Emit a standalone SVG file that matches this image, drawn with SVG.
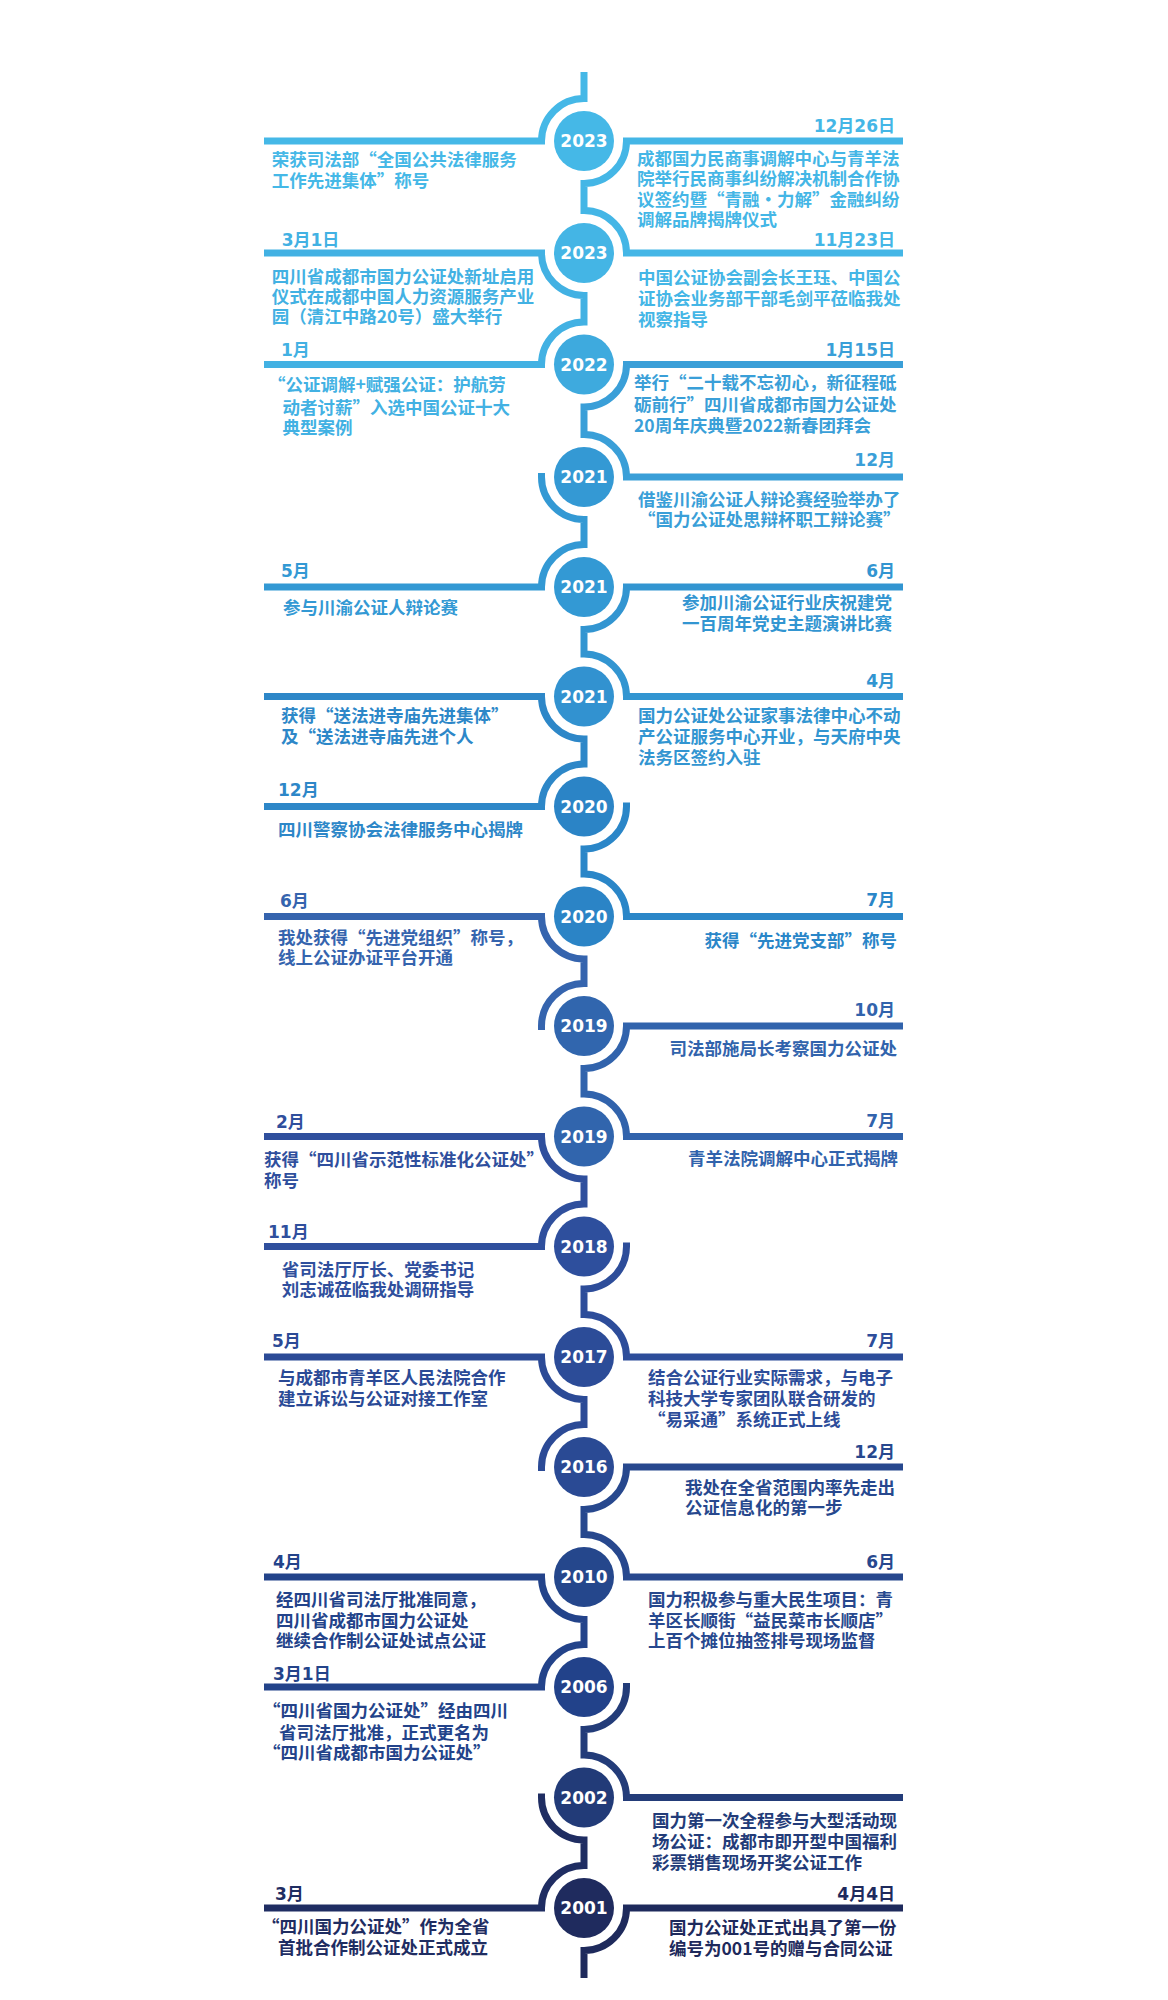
<svg xmlns="http://www.w3.org/2000/svg" width="1168" height="2000" viewBox="0 0 1168 2000">
<style>
.c{fill:none;stroke-width:7;stroke-linejoin:miter;stroke-linecap:butt}
.t{font-family:"Noto Sans CJK SC","Noto Sans CJK TC",sans-serif;font-size:17.5px;font-weight:700}
.d{font-family:"DejaVu Sans","Noto Sans CJK SC",sans-serif;font-size:17px;font-weight:700}
.y{font-family:"DejaVu Sans","Liberation Sans",sans-serif;font-size:17px;font-weight:700;fill:#ffffff;text-anchor:middle}
.e{text-anchor:end}
</style>
<rect width="1168" height="2000" fill="#ffffff"/>
<g id="connectors">
<path class="c" stroke="#45b8e7" d="M584 72 L584 98.5 A42.5 42.5 0 0 0 541.5 141 L264 141"/>
<path class="c" stroke="#44b6e6" d="M903 141 L626.5 141 A42.5 42.5 0 0 1 584 183.5 L584 210.5 A42.5 42.5 0 0 1 626.5 253 L903 253"/>
<path class="c" stroke="#42b1e3" d="M264 253 L541.5 253 A42.5 42.5 0 0 0 584 295.5 L584 322 A42.5 42.5 0 0 0 541.5 364.5 L264 364.5"/>
<path class="c" stroke="#3a9fd8" d="M903 364.5 L626.5 364.5 A42.5 42.5 0 0 1 584 407 L584 434.5 A42.5 42.5 0 0 1 626.5 477 L903 477"/>
<path class="c" stroke="#3399d4" d="M541.5 473 L541.5 477 A42.5 42.5 0 0 0 584 519.5 L584 544.5 A42.5 42.5 0 0 0 541.5 587 L264 587"/>
<path class="c" stroke="#3295d1" d="M903 587 L626.5 587 A42.5 42.5 0 0 1 584 629.5 L584 654 A42.5 42.5 0 0 1 626.5 696.5 L903 696.5"/>
<path class="c" stroke="#2d87c8" d="M264 696.5 L541.5 696.5 A42.5 42.5 0 0 0 584 739 L584 764 A42.5 42.5 0 0 0 541.5 806.5 L264 806.5"/>
<path class="c" stroke="#2a86c8" d="M626.5 802.5 L626.5 806.5 A42.5 42.5 0 0 1 584 849 L584 874 A42.5 42.5 0 0 1 626.5 916.5 L903 916.5"/>
<path class="c" stroke="#3564ae" d="M264 916.5 L541.5 916.5 A42.5 42.5 0 0 0 584 959 L584 983.5 A42.5 42.5 0 0 0 541.5 1026 L541.5 1030"/>
<path class="c" stroke="#3163ac" d="M903 1026 L626.5 1026 A42.5 42.5 0 0 1 584 1068.5 L584 1094 A42.5 42.5 0 0 1 626.5 1136.5 L903 1136.5"/>
<path class="c" stroke="#2f4f9d" d="M264 1136.5 L541.5 1136.5 A42.5 42.5 0 0 0 584 1179 L584 1204 A42.5 42.5 0 0 0 541.5 1246.5 L264 1246.5"/>
<path class="c" stroke="#2d4d9a" d="M626.5 1242.5 L626.5 1246.5 A42.5 42.5 0 0 1 584 1289 L584 1314.5 A42.5 42.5 0 0 1 626.5 1357 L903 1357"/>
<path class="c" stroke="#2b4a96" d="M264 1357 L541.5 1357 A42.5 42.5 0 0 0 584 1399.5 L584 1424.5 A42.5 42.5 0 0 0 541.5 1467 L541.5 1471"/>
<path class="c" stroke="#27488e" d="M903 1467 L626.5 1467 A42.5 42.5 0 0 1 584 1509.5 L584 1534.5 A42.5 42.5 0 0 1 626.5 1577 L903 1577"/>
<path class="c" stroke="#23438a" d="M264 1577 L541.5 1577 A42.5 42.5 0 0 0 584 1619.5 L584 1644.5 A42.5 42.5 0 0 0 541.5 1687 L264 1687"/>
<path class="c" stroke="#233c79" d="M626.5 1683 L626.5 1687 A42.5 42.5 0 0 1 584 1729.5 L584 1755 A42.5 42.5 0 0 1 626.5 1797.5 L903 1797.5"/>
<path class="c" stroke="#1f2d62" d="M541.5 1793.5 L541.5 1797.5 A42.5 42.5 0 0 0 584 1840 L584 1865.5 A42.5 42.5 0 0 0 541.5 1908 L264 1908"/>
<path class="c" stroke="#1e2a5c" d="M903 1908 L626.5 1908 A42.5 42.5 0 0 1 584 1950.5 L584 1978"/>
</g>

<g id="node-2023-a">
<circle cx="584" cy="141" r="30" fill="#45b8e7"/>
<text class="y" x="584" y="147">2023</text>
<text class="t" fill="#45b8e7"><tspan x="271.7" y="166">荣获司法部“全国公共法律服务</tspan><tspan x="271.7" y="187">工作先进集体”称号</tspan></text>
<text class="d e" x="895" y="131.5" fill="#44b6e6">12月26日</text>
<text class="t" fill="#44b6e6"><tspan x="637" y="164.5">成都国力民商事调解中心与青羊法</tspan><tspan x="637" y="185">院举行民商事纠纷解决机制合作协</tspan><tspan x="637" y="205.5">议签约暨“青融·力解”金融纠纷</tspan><tspan x="637" y="226">调解品牌揭牌仪式</tspan></text>
</g>

<g id="node-2023-b">
<circle cx="584" cy="253" r="30" fill="#44b5e5"/>
<text class="y" x="584" y="259">2023</text>
<text class="d" x="281.7" y="246" fill="#42b1e3">3月1日</text>
<text class="t" fill="#42b1e3"><tspan x="271.7" y="282.5">四川省成都市国力公证处新址启用</tspan><tspan x="271.7" y="302.5">仪式在成都中国人力资源服务产业</tspan><tspan x="271.7" y="322.5">园（清江中路20号）盛大举行</tspan></text>
<text class="d e" x="895" y="246" fill="#44b6e6">11月23日</text>
<text class="t" fill="#44b6e6"><tspan x="638" y="284">中国公证协会副会长王珏、中国公</tspan><tspan x="638" y="305">证协会业务部干部毛剑平莅临我处</tspan><tspan x="638" y="325.5">视察指导</tspan></text>
</g>

<g id="node-2022">
<circle cx="584" cy="364.5" r="30" fill="#3eaade"/>
<text class="y" x="584" y="370.5">2022</text>
<text class="d" x="281" y="356" fill="#42b1e3">1月</text>
<text class="t" fill="#42b1e3"><tspan x="268" y="391">“公证调解+赋强公证：护航劳</tspan><tspan x="282.5" y="413.5">动者讨薪”入选中国公证十大</tspan><tspan x="282.5" y="434">典型案例</tspan></text>
<text class="d e" x="895" y="356" fill="#3a9fd8">1月15日</text>
<text class="t" fill="#3a9fd8"><tspan x="634" y="389">举行“二十载不忘初心，新征程砥</tspan><tspan x="634" y="411">砺前行”四川省成都市国力公证处</tspan><tspan x="634" y="432">20周年庆典暨2022新春团拜会</tspan></text>
</g>

<g id="node-2021-a">
<circle cx="584" cy="477" r="30" fill="#3499d4"/>
<text class="y" x="584" y="483">2021</text>
<text class="d e" x="895" y="466" fill="#3a9fd8">12月</text>
<text class="t" fill="#3a9fd8"><tspan x="638" y="505.5">借鉴川渝公证人辩论赛经验举办了</tspan><tspan x="638" y="526">“国力公证处思辩杯职工辩论赛”</tspan></text>
</g>

<g id="node-2021-b">
<circle cx="584" cy="587" r="30" fill="#3399d4"/>
<text class="y" x="584" y="593">2021</text>
<text class="d" x="281" y="577" fill="#3399d4">5月</text>
<text class="t" x="283" y="613.5" fill="#3399d4">参与川渝公证人辩论赛</text>
<text class="d e" x="895" y="577" fill="#3295d1">6月</text>
<text class="t" fill="#3295d1"><tspan x="682" y="608.5">参加川渝公证行业庆祝建党</tspan><tspan x="682" y="630">一百周年党史主题演讲比赛</tspan></text>
</g>

<g id="node-2021-c">
<circle cx="584" cy="696.5" r="30" fill="#3292d0"/>
<text class="y" x="584" y="702.5">2021</text>
<text class="t" fill="#2d87c8"><tspan x="281" y="722">获得“送法进寺庙先进集体”</tspan><tspan x="281" y="742.5">及“送法进寺庙先进个人</tspan></text>
<text class="d e" x="895" y="687" fill="#3295d1">4月</text>
<text class="t" fill="#3295d1"><tspan x="638" y="722">国力公证处公证家事法律中心不动</tspan><tspan x="638" y="742.5">产公证服务中心开业，与天府中央</tspan><tspan x="638" y="764">法务区签约入驻</tspan></text>
</g>

<g id="node-2020-a">
<circle cx="584" cy="806.5" r="30" fill="#2b84c6"/>
<text class="y" x="584" y="812.5">2020</text>
<text class="d" x="278" y="796" fill="#2d87c8">12月</text>
<text class="t" x="278" y="836" fill="#2d87c8">四川警察协会法律服务中心揭牌</text>
</g>

<g id="node-2020-b">
<circle cx="584" cy="916.5" r="30" fill="#2b84c6"/>
<text class="y" x="584" y="922.5">2020</text>
<text class="d" x="280" y="907" fill="#3564ae">6月</text>
<text class="t" fill="#3564ae"><tspan x="278" y="944">我处获得“先进党组织”称号，</tspan><tspan x="278" y="964">线上公证办证平台开通</tspan></text>
<text class="d e" x="895" y="906" fill="#2a86c8">7月</text>
<text class="t e" x="897" y="946.5" fill="#2a86c8">获得“先进党支部”称号</text>
</g>

<g id="node-2019-a">
<circle cx="584" cy="1026" r="30" fill="#3166ae"/>
<text class="y" x="584" y="1032">2019</text>
<text class="d e" x="895" y="1016" fill="#3163ac">10月</text>
<text class="t e" x="897" y="1055" fill="#3163ac">司法部施局长考察国力公证处</text>
</g>

<g id="node-2019-b">
<circle cx="584" cy="1136.5" r="30" fill="#3165ad"/>
<text class="y" x="584" y="1142.5">2019</text>
<text class="d" x="276" y="1128" fill="#2f4f9d">2月</text>
<text class="t" fill="#2f4f9d"><tspan x="264" y="1165.5">获得“四川省示范性标准化公证处”</tspan><tspan x="264" y="1187">称号</tspan></text>
<text class="d e" x="895" y="1127" fill="#3163ac">7月</text>
<text class="t e" x="898" y="1164.5" fill="#3163ac">青羊法院调解中心正式揭牌</text>
</g>

<g id="node-2018">
<circle cx="584" cy="1246.5" r="30" fill="#2e4f9d"/>
<text class="y" x="584" y="1252.5">2018</text>
<text class="d" x="268" y="1238" fill="#2f4f9d">11月</text>
<text class="t" fill="#2f4f9d"><tspan x="281.7" y="1276">省司法厅厅长、党委书记</tspan><tspan x="281.7" y="1296">刘志诚莅临我处调研指导</tspan></text>
</g>

<g id="node-2017">
<circle cx="584" cy="1357" r="30" fill="#2c4c98"/>
<text class="y" x="584" y="1363">2017</text>
<text class="d" x="272" y="1347" fill="#2b4a96">5月</text>
<text class="t" fill="#2b4a96"><tspan x="278" y="1384">与成都市青羊区人民法院合作</tspan><tspan x="278" y="1404.5">建立诉讼与公证对接工作室</tspan></text>
<text class="d e" x="895" y="1347" fill="#2d4d9a">7月</text>
<text class="t" fill="#2d4d9a"><tspan x="648" y="1384">结合公证行业实际需求，与电子</tspan><tspan x="648" y="1404.5">科技大学专家团队联合研发的</tspan><tspan x="648" y="1426">“易采通”系统正式上线</tspan></text>
</g>

<g id="node-2016">
<circle cx="584" cy="1467" r="30" fill="#2a4a94"/>
<text class="y" x="584" y="1473">2016</text>
<text class="d e" x="895" y="1458" fill="#27488e">12月</text>
<text class="t" fill="#27488e"><tspan x="685" y="1493.5">我处在全省范围内率先走出</tspan><tspan x="685" y="1514">公证信息化的第一步</tspan></text>
</g>

<g id="node-2010">
<circle cx="584" cy="1577" r="30" fill="#25478c"/>
<text class="y" x="584" y="1583">2010</text>
<text class="d" x="273" y="1568" fill="#23438a">4月</text>
<text class="t" fill="#23438a"><tspan x="276" y="1606">经四川省司法厅批准同意，</tspan><tspan x="276" y="1627">四川省成都市国力公证处</tspan><tspan x="276" y="1647">继续合作制公证处试点公证</tspan></text>
<text class="d e" x="895" y="1568" fill="#27488e">6月</text>
<text class="t" fill="#27488e"><tspan x="648" y="1606">国力积极参与重大民生项目：青</tspan><tspan x="648" y="1627">羊区长顺街“益民菜市长顺店”</tspan><tspan x="648" y="1647">上百个摊位抽签排号现场监督</tspan></text>
</g>

<g id="node-2006">
<circle cx="584" cy="1687" r="30" fill="#22428a"/>
<text class="y" x="584" y="1693">2006</text>
<text class="d" x="273" y="1680" fill="#23438a">3月1日</text>
<text class="t" fill="#23438a"><tspan x="263" y="1717">“四川省国力公证处”经由四川</tspan><tspan x="279" y="1738.5">省司法厅批准，正式更名为</tspan><tspan x="263" y="1759">“四川省成都市国力公证处”</tspan></text>
</g>

<g id="node-2002">
<circle cx="584" cy="1797.5" r="30" fill="#223b78"/>
<text class="y" x="584" y="1803.5">2002</text>
<text class="t" fill="#233c79"><tspan x="652" y="1827">国力第一次全程参与大型活动现</tspan><tspan x="652" y="1848">场公证：成都市即开型中国福利</tspan><tspan x="652" y="1869">彩票销售现场开奖公证工作</tspan></text>
</g>

<g id="node-2001">
<circle cx="584" cy="1908" r="30" fill="#1f2b5e"/>
<text class="y" x="584" y="1914">2001</text>
<text class="d" x="275" y="1900" fill="#1f2d62">3月</text>
<text class="t" fill="#1f2d62"><tspan x="262" y="1932.5">“四川国力公证处”作为全省</tspan><tspan x="278" y="1954">首批合作制公证处正式成立</tspan></text>
<text class="d e" x="895" y="1900" fill="#1e2a5c">4月4日</text>
<text class="t" fill="#1e2a5c"><tspan x="669" y="1934">国力公证处正式出具了第一份</tspan><tspan x="669" y="1955">编号为001号的赠与合同公证</tspan></text>
</g>
</svg>
